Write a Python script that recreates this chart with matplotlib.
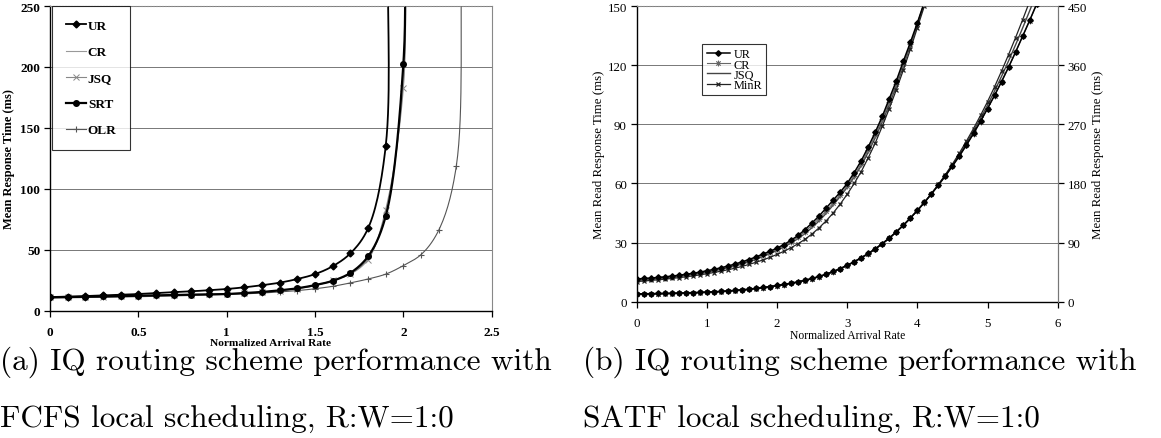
import numpy as np
import matplotlib
matplotlib.use("Agg")
import matplotlib.pyplot as plt

# ---- (a) FCFS local scheduling ----
x_a = [0.0, 0.1, 0.2, 0.3, 0.4, 0.5, 0.6, 0.7, 0.8, 0.9,
       1.0, 1.1, 1.2, 1.3, 1.4, 1.5, 1.6, 1.7, 1.8, 1.9]
ur_a = [11.2, 11.5, 12.0, 12.5, 13.0, 13.7, 14.4, 15.1, 15.9, 16.8,
        17.8, 19.2, 20.9, 23.0, 26.0, 30.0, 36.5, 47.0, 67.5, 135.0]
ur_a_tail = ([1.912], [300.0])

x_a2 = x_a + [2.0]
srt_a = [11.0, 11.2, 11.4, 11.7, 12.0, 12.3, 12.6, 12.9, 13.2, 13.4,
         13.7, 14.5, 15.4, 16.7, 18.4, 21.0, 24.5, 31.0, 44.5, 77.5, 202.5]
srt_a_tail = ([2.011], [300.0])
jsq_a = [10.9, 11.1, 11.3, 11.6, 11.9, 12.2, 12.5, 12.8, 13.1, 13.3,
         13.6, 14.3, 15.2, 16.5, 18.2, 20.5, 25.0, 30.0, 42.0, 83.0, 183.0]
jsq_a_tail = ([2.013], [300.0])
cr_a = [10.9, 11.1, 11.3, 11.6, 11.9, 12.2, 12.5, 12.8, 13.1, 13.3,
        13.6, 14.4, 15.3, 16.6, 18.3, 20.8, 24.6, 30.5, 43.0, 80.0, 190.0]
cr_a_tail = ([2.012], [300.0])

x_a3 = x_a2 + [2.1, 2.2, 2.3]
olr_a = [10.5, 10.6, 10.8, 11.0, 11.2, 11.5, 11.8, 12.1, 12.5, 12.9,
         13.3, 13.8, 14.5, 15.4, 16.5, 18.0, 20.0, 22.8, 26.0, 30.0,
         37.0, 46.0, 66.0, 119.0]
olr_a_tail = ([2.33], [300.0])

# ---- (b) SATF local scheduling ----
# left-axis group (0..150 ms)
x_b1 = [round(0.1 * i, 1) for i in range(42)]
ur_b1 = [11.5, 11.8, 12.0, 12.3, 12.6, 13.0, 13.4, 13.9, 14.4, 15.0,
         15.7, 16.4, 17.2, 18.1, 19.1, 20.2, 21.4, 22.7, 24.2, 25.6,
         27.2, 29.0, 31.2, 33.6, 36.6, 40.0, 43.5, 47.5, 51.5, 55.5,
         60.0, 65.5, 71.5, 78.5, 86.0, 94.0, 103.0, 112.0, 122.0, 131.5,
         141.5, 152.0]
cr_b1 = [11.0, 11.3, 11.6, 11.9, 12.2, 12.6, 13.0, 13.5, 14.0, 14.6,
         15.2, 15.9, 16.7, 17.6, 18.6, 19.6, 20.8, 22.1, 23.5, 25.0,
         26.6, 28.4, 30.4, 32.8, 35.6, 38.8, 42.2, 46.0, 50.0, 54.2,
         58.8, 64.0, 70.0, 77.0, 84.5, 92.5, 101.5, 110.5, 120.5, 130.5,
         141.0, 152.0]
jsq_b1 = [10.8, 11.1, 11.4, 11.7, 12.0, 12.4, 12.8, 13.3, 13.8, 14.3,
          14.9, 15.6, 16.4, 17.2, 18.1, 19.1, 20.2, 21.5, 22.9, 24.4,
          26.0, 27.8, 29.8, 32.0, 34.6, 37.6, 41.0, 44.8, 49.0, 53.4,
          58.0, 63.2, 69.0, 75.8, 83.2, 91.2, 100.0, 109.5, 119.5, 130.0,
          140.5, 151.5]
minr_b1 = [10.2, 10.5, 10.8, 11.1, 11.4, 11.8, 12.2, 12.6, 13.1, 13.6,
           14.2, 14.8, 15.5, 16.2, 17.0, 17.9, 18.9, 20.0, 21.2, 22.5,
           24.0, 25.6, 27.4, 29.4, 31.7, 34.4, 37.5, 41.0, 45.0, 49.5,
           54.5, 60.0, 66.0, 73.0, 80.5, 89.0, 98.0, 107.5, 117.5, 128.0,
           139.0, 150.0]

# right-axis group (0..450 ms)
x_b2 = [round(0.1 * i, 1) for i in range(58)]
ur_b2 = [12.0, 12.1, 12.3, 12.5, 12.7, 12.9, 13.2, 13.5, 13.9, 14.3,
         14.7, 15.2, 15.8, 16.5, 17.3, 18.2, 19.2, 20.4, 21.7, 23.1,
         24.7, 26.4, 28.3, 30.4, 32.8, 35.5, 38.5, 42.0, 46.0, 50.5,
         55.5, 61.0, 67.0, 73.5, 80.5, 88.5, 97.0, 106.5, 116.5, 127.5,
         139.0, 151.0, 164.0, 177.5, 191.5, 206.5, 222.0, 238.5, 256.0, 274.5,
         294.0, 314.0, 335.0, 357.0, 380.0, 404.0, 428.0, 453.0]
cr_b2 = [11.8, 11.9, 12.1, 12.3, 12.5, 12.7, 13.0, 13.3, 13.7, 14.1,
         14.5, 15.0, 15.6, 16.3, 17.1, 17.9, 18.9, 20.1, 21.4, 22.8,
         24.4, 26.1, 28.0, 30.1, 32.5, 35.2, 38.2, 41.7, 45.7, 50.2,
         55.2, 60.7, 66.7, 73.2, 80.2, 88.2, 96.7, 106.2, 116.2, 127.2,
         138.7, 150.7, 163.7, 177.2, 191.2, 206.2, 221.7, 238.2, 255.7, 274.2,
         293.7, 313.7, 334.7, 356.7, 379.7, 403.7, 427.7, 452.7]
jsq_b2 = [11.6, 11.7, 11.9, 12.1, 12.3, 12.5, 12.8, 13.1, 13.5, 13.9,
          14.3, 14.8, 15.4, 16.1, 16.9, 17.7, 18.7, 19.9, 21.2, 22.6,
          24.2, 25.9, 27.8, 29.9, 32.3, 35.0, 38.0, 41.5, 45.5, 50.0,
          55.0, 60.5, 66.5, 73.0, 80.0, 88.0, 96.5, 106.0, 116.0, 127.0,
          138.8, 151.0, 164.2, 178.0, 192.5, 208.0, 224.0, 241.5, 260.0, 279.0,
          299.0, 320.5, 343.0, 366.5, 391.0, 416.5, 442.5, 469.5]
minr_b2 = [11.5, 11.6, 11.8, 12.0, 12.2, 12.4, 12.7, 13.0, 13.4, 13.8,
           14.2, 14.7, 15.3, 16.0, 16.8, 17.6, 18.6, 19.8, 21.1, 22.5,
           24.1, 25.8, 27.7, 29.8, 32.2, 34.9, 38.0, 41.5, 45.5, 50.0,
           55.0, 60.5, 66.5, 73.0, 80.0, 88.0, 96.5, 106.0, 116.0, 127.0,
           138.5, 151.0, 164.5, 178.5, 193.5, 209.5, 226.5, 244.5, 263.5, 283.5,
           304.5, 327.0, 351.0, 376.0, 402.0, 429.0, 457.0, 486.0]

xticks_a = [0, 0.5, 1, 1.5, 2, 2.5]
xticklabels_a = ["0", "0.5", "1", "1.5", "2", "2.5"]
yticks_a = [0, 50, 100, 150, 200, 250]
xticks_b = [0, 1, 2, 3, 4, 5, 6]
yticks_b = [0, 30, 60, 90, 120, 150]
yticks_b2 = [0, 90, 180, 270, 360, 450]

cap_a = ["(a) IQ routing scheme performance with", "FCFS local scheduling, R:W=1:0"]
cap_b = ["(b) IQ routing scheme performance with", "SATF local scheduling, R:W=1:0"]

W, H = 1161, 439
fig = plt.figure(figsize=(W / 100, H / 100), dpi=100)

serif = ["Liberation Serif", "DejaVu Serif"]
cm = ["cmr10", "DejaVu Serif"]


def px_axes(l, t, r, b):
    return fig.add_axes([l / W, 1 - b / H, (r - l) / W, (b - t) / H])


def smooth(x, y, sx, sy, n=16):
    # centripetal Catmull-Rom through the points (Excel-style smoothed line),
    # worked out in axis-scaled units
    p = np.column_stack([np.asarray(x, float) / sx, np.asarray(y, float) / sy])
    p = np.vstack([2 * p[0] - p[1], p, 2 * p[-1] - p[-2]])
    out = []
    for i in range(1, len(p) - 2):
        P0, P1, P2, P3 = p[i - 1], p[i], p[i + 1], p[i + 2]
        t0 = 0.0
        t1 = t0 + np.linalg.norm(P1 - P0) ** 0.5
        t2 = t1 + np.linalg.norm(P2 - P1) ** 0.5
        t3 = t2 + np.linalg.norm(P3 - P2) ** 0.5
        t = np.linspace(t1, t2, n, endpoint=False)[:, None]
        A1 = (t1 - t) / (t1 - t0) * P0 + (t - t0) / (t1 - t0) * P1
        A2 = (t2 - t) / (t2 - t1) * P1 + (t - t1) / (t2 - t1) * P2
        A3 = (t3 - t) / (t3 - t2) * P2 + (t - t2) / (t3 - t2) * P3
        B1 = (t2 - t) / (t2 - t0) * A1 + (t - t0) / (t2 - t0) * A2
        B2 = (t3 - t) / (t3 - t1) * A2 + (t - t1) / (t3 - t1) * A3
        out.append((t2 - t) / (t2 - t1) * B1 + (t - t1) / (t2 - t1) * B2)
    out.append(p[-2][None, :])
    out = np.vstack(out)
    return out[:, 0] * sx, out[:, 1] * sy


def style_frame(ax):
    for s in ["top", "right"]:
        ax.spines[s].set_color("#888888")
        ax.spines[s].set_linewidth(0.8)
    ax.spines["top"].set_linestyle(":")
    for s in ["left", "bottom"]:
        ax.spines[s].set_color("black")
        ax.spines[s].set_linewidth(1.0)
    ax.yaxis.grid(True, color="#777777", lw=0.7)
    ax.set_axisbelow(True)
    ax.tick_params(direction="out", length=4, width=0.9, pad=3)


# ---------- panel (a) ----------
ax = px_axes(50, 7, 491.7, 311.7)
style_frame(ax)
ax.set_xlim(0, 2.5)
ax.set_ylim(0, 250)


def curve_a(xs, ys, tail, label, color, lw, marker=None, ms=4, mew=1.0):
    sx, sy = smooth(xs + tail[0], ys + tail[1], 2.5, 250)
    ax.plot(sx, sy, color=color, lw=lw)
    if marker:
        ax.plot(xs, ys, ls="none", color=color, marker=marker, ms=ms, mew=mew)
    # legend proxy
    ax.plot([], [], color=color, lw=lw, marker=marker, ms=ms, mew=mew, label=label)


curve_a(x_a2, cr_a, cr_a_tail, "CR", "#999999", 0.8)
curve_a(x_a2, jsq_a, jsq_a_tail, "JSQ", "#888888", 0.8, "x", 4, 0.7)
curve_a(x_a3, olr_a, olr_a_tail, "OLR", "#555555", 0.8, "+", 5, 0.8)
curve_a(x_a2, srt_a, srt_a_tail, "SRT", "black", 1.6, "o", 4)
curve_a(x_a, ur_a, ur_a_tail, "UR", "black", 1.3, "D", 3.5)

ax.set_xticks(xticks_a)
ax.set_xticklabels(xticklabels_a)
ax.set_yticks(yticks_a)
for lab in ax.get_xticklabels() + ax.get_yticklabels():
    lab.set_family(serif)
    lab.set_fontweight("bold")
    lab.set_fontsize(9.5)
ax.tick_params(axis="x", pad=7)
ax.set_xlabel("Normalized Arrival Rate", family=serif, fontweight="bold",
              fontsize=8.2, labelpad=0)
ax.set_ylabel("Mean Response Time (ms)", family=serif, fontweight="bold",
              fontsize=9, labelpad=4)

h, l = ax.get_legend_handles_labels()
order = ["UR", "CR", "JSQ", "SRT", "OLR"]
hd = dict(zip(l, h))
leg = ax.legend([hd[k] for k in order], order, loc="upper left",
                bbox_to_anchor=(0.005, 1.0), frameon=True, fancybox=False,
                edgecolor="black", prop={"family": serif, "weight": "bold", "size": 9.5},
                labelspacing=1.05, handlelength=1.5, handletextpad=0.15,
                borderpad=1.05, borderaxespad=0.0)
leg.get_frame().set_linewidth(0.8)

# ---------- panel (b) ----------
bx = px_axes(636.7, 7, 1057.7, 302.7)
style_frame(bx)
bx2 = bx.twinx()

bx.plot(x_b1, jsq_b1, color="#444444", lw=1.0, label="JSQ")
bx.plot(x_b1, cr_b1, color="#666666", lw=0.8, marker=(8, 2, 0), ms=4, mew=0.6, label="CR")
bx.plot(x_b1, minr_b1, color="#222222", lw=0.9, marker="x", ms=3.5, mew=0.9, label="MinR")
bx.plot(x_b1, ur_b1, color="black", lw=1.1, marker="D", ms=2.8, label="UR")

bx2.plot(x_b2, jsq_b2, color="#444444", lw=1.0)
bx2.plot(x_b2, cr_b2, color="#666666", lw=0.8, marker=(8, 2, 0), ms=4, mew=0.6)
bx2.plot(x_b2, minr_b2, color="#222222", lw=0.9, marker="x", ms=3.5, mew=0.9)
bx2.plot(x_b2, ur_b2, color="black", lw=1.1, marker="D", ms=2.8)

bx.set_xlim(0, 6)
bx.set_ylim(0, 150)
bx2.set_ylim(0, 450)
bx.set_xticks(xticks_b)
bx.set_yticks(yticks_b)
bx2.set_yticks(yticks_b2)
bx2.tick_params(direction="out", length=4, width=0.9, pad=3)
for s in ["top", "left", "bottom"]:
    bx2.spines[s].set_visible(False)
bx2.spines["right"].set_color("#777777")
bx2.spines["right"].set_linewidth(0.8)
for lab in bx.get_xticklabels() + bx.get_yticklabels() + bx2.get_yticklabels():
    lab.set_family(serif)
    lab.set_fontsize(9.3)
bx.tick_params(axis="x", pad=7)
bx.set_xlabel("Normalized Arrival Rate", family=serif, fontsize=8.4, labelpad=0)
bx.set_ylabel("Mean Read Response Time (ms)", family=serif, fontsize=9.3, labelpad=2)
bx2.set_ylabel("Mean Read Response Time (ms)", family=serif, fontsize=9.3, labelpad=4)

h, l = bx.get_legend_handles_labels()
hd = dict(zip(l, h))
order = ["UR", "CR", "JSQ", "MinR"]
leg = bx.legend([hd[k] for k in order], order, loc="upper left",
                bbox_to_anchor=(0.156, 1 - 38 / 295),
                frameon=True, fancybox=False, edgecolor="black",
                prop={"family": serif, "size": 8.8}, labelspacing=-0.15,
                handlelength=1.9, handletextpad=0.3, borderpad=0.35,
                borderaxespad=0.0)
leg.get_frame().set_linewidth(0.8)

# ---------- captions ----------
for x0, cap in [(0, cap_a), (583, cap_b)]:
    fig.text(x0 / W, 1 - 362 / H, cap[0], family=cm, fontsize=22.5, va="center", ha="left")
    fig.text(x0 / W, 1 - 420 / H, cap[1], family=cm, fontsize=22.5, va="center", ha="left")

fig.savefig("out.png", dpi=100)
